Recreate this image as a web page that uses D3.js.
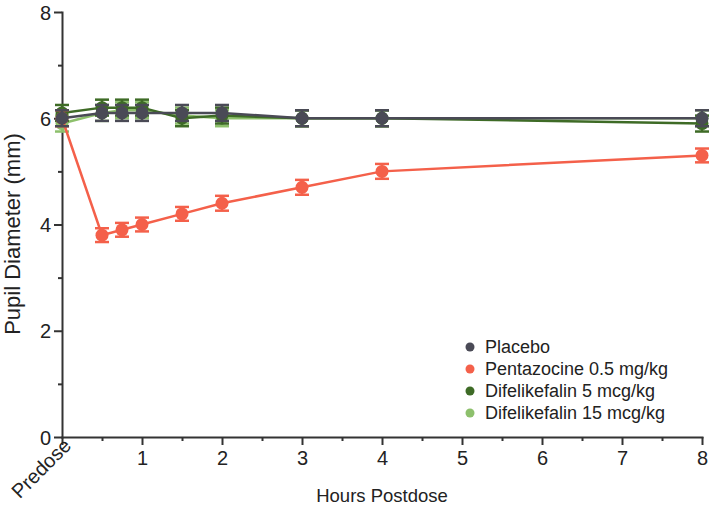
<!DOCTYPE html>
<html><head><meta charset="utf-8">
<script src="https://cdn.jsdelivr.net/npm/d3@7"></script>
<style>body{margin:0;background:#fff}svg{display:block}text{font-family:"Liberation Sans",Arial,sans-serif;fill:#222}</style>
</head><body>
<svg id="c" width="709" height="520"></svg>
<script>
const hours = [0, 0.5, 0.75, 1, 1.5, 2, 3, 4, 8];
const placebo      = [6.0, 6.1, 6.1, 6.1, 6.1, 6.1, 6.0, 6.0, 6.0];
const placeboErr   = [0.15,0.15,0.15,0.15,0.15,0.15,0.15,0.15,0.15];
const pentazocine  = [6.0, 3.8, 3.9, 4.0, 4.2, 4.4, 4.7, 5.0, 5.3];
const pentaErr     = [0.15,0.13,0.13,0.13,0.13,0.14,0.14,0.14,0.13];
const dif5         = [6.1, 6.2, 6.2, 6.2, 6.0, 6.05, 6.0, 6.0, 5.9];
const dif5Err      = [0.15,0.15,0.15,0.15,0.15,0.15,0.15,0.15,0.15];
const dif15        = [5.9, 6.1, 6.15, 6.15, 6.05, 6.0, 6.0, 6.0, 6.0];
const dif15Err     = [0.15,0.15,0.15,0.15,0.15,0.15,0.15,0.15,0.15];
const seriesNames  = ["Placebo","Pentazocine 0.5 mg/kg","Difelikefalin 5 mcg/kg","Difelikefalin 15 mcg/kg"];
const seriesColors = ["#4a4a56","#f4604a","#3e6b26","#8dc06c"];
const xTickLabels  = ["Predose","1","2","3","4","5","6","7","8"];
const yTicks = [0,2,4,6,8];

const svg = d3.select("#c");
const x = d3.scaleLinear().domain([0,8]).range([62,702]);
const y = d3.scaleLinear().domain([0,8]).range([437,12]);

const series = [
  {name:seriesNames[3], color:seriesColors[3], v:dif15, e:dif15Err},
  {name:seriesNames[2], color:seriesColors[2], v:dif5, e:dif5Err},
  {name:seriesNames[1], color:seriesColors[1], v:pentazocine, e:pentaErr},
  {name:seriesNames[0], color:seriesColors[0], v:placebo, e:placeboErr}
];

const axisColor = "#333";
const tickFont = 20;
// Y axis
const ya = svg.append("g").attr("transform","translate(62,0)");
ya.call(d3.axisLeft(y).tickValues(d3.range(1,8,2)).tickSize(4).tickFormat(""));
ya.call(g=>g.select(".domain").remove());
const ya2 = svg.append("g").attr("transform","translate(62,0)");
ya2.call(d3.axisLeft(y).tickValues(yTicks).tickSize(8).tickSizeOuter(0).tickPadding(3));
svg.selectAll("g").selectAll("line").attr("stroke",axisColor).attr("stroke-width",2);
ya2.select(".domain").attr("stroke",axisColor).attr("stroke-width",2);
ya2.selectAll("text").attr("font-size",tickFont).attr("fill","#222").attr("dy","0.35em");

// X axis
const xa = svg.append("g").attr("transform","translate(0,437)");
xa.call(d3.axisBottom(x).tickValues(d3.range(0.5,8,1)).tickSize(4).tickFormat(""));
xa.select(".domain").remove();
const xa2 = svg.append("g").attr("transform","translate(0,437)");
xa2.call(d3.axisBottom(x).tickValues(d3.range(0,9,1)).tickSize(8).tickSizeOuter(0).tickPadding(6)
  .tickFormat((d,i)=>xTickLabels[i]));
[xa,xa2].forEach(g=>g.selectAll("line").attr("stroke",axisColor).attr("stroke-width",2));
xa2.select(".domain").attr("stroke",axisColor).attr("stroke-width",2);
xa2.selectAll("text").attr("font-size",tickFont).attr("fill","#222").attr("font-family","Liberation Sans, Arial, sans-serif");
xa2.selectAll(".tick").filter(d=>d===0).select("text")
  .attr("text-anchor","end").attr("dy","0").attr("y",14).attr("x",0)
  .attr("transform","rotate(-45)");
ya2.selectAll("text").attr("font-family","Liberation Sans, Arial, sans-serif");
svg.selectAll(".domain").attr("stroke-linecap","square");

// Axis titles
svg.append("text").attr("x",382).attr("y",502).attr("text-anchor","middle").attr("font-size",18.5).text("Hours Postdose");
svg.append("text").attr("transform","translate(20,234) rotate(-90)").attr("text-anchor","middle").attr("font-size",22).text("Pupil Diameter (mm)");

// Series
const line = d3.line().x((d,i)=>x(hours[i])).y(d=>y(d));
series.forEach(s=>{
  const g = svg.append("g");
  g.append("path").datum(s.v).attr("d",line).attr("fill","none").attr("stroke",s.color).attr("stroke-width",2.5);
  const pts = s.v.map((v,i)=>({h:hours[i],v,e:s.e[i]}));
  const eb = g.selectAll(".eb").data(pts).enter().append("g");
  eb.append("line").attr("x1",d=>x(d.h)).attr("x2",d=>x(d.h)).attr("y1",d=>y(d.v+d.e)).attr("y2",d=>y(d.v-d.e)).attr("stroke",s.color).attr("stroke-width",2.5);
  eb.append("line").attr("x1",d=>x(d.h)-7).attr("x2",d=>x(d.h)+7).attr("y1",d=>y(d.v+d.e)).attr("y2",d=>y(d.v+d.e)).attr("stroke",s.color).attr("stroke-width",2.5);
  eb.append("line").attr("x1",d=>x(d.h)-7).attr("x2",d=>x(d.h)+7).attr("y1",d=>y(d.v-d.e)).attr("y2",d=>y(d.v-d.e)).attr("stroke",s.color).attr("stroke-width",2.5);
  g.selectAll("circle").data(pts).enter().append("circle").attr("cx",d=>x(d.h)).attr("cy",d=>y(d.v)).attr("r",6.5).attr("fill",s.color);
});

// Legend
const leg = svg.append("g");
seriesNames.forEach((n,i)=>{
  const yy = 347 + i*22;
  leg.append("circle").attr("cx",470).attr("cy",yy).attr("r",4.5).attr("fill",seriesColors[i]);
  leg.append("text").attr("x",485).attr("y",yy).attr("dy","0.35em").attr("font-size",18).text(n);
});
</script>
</body></html>
